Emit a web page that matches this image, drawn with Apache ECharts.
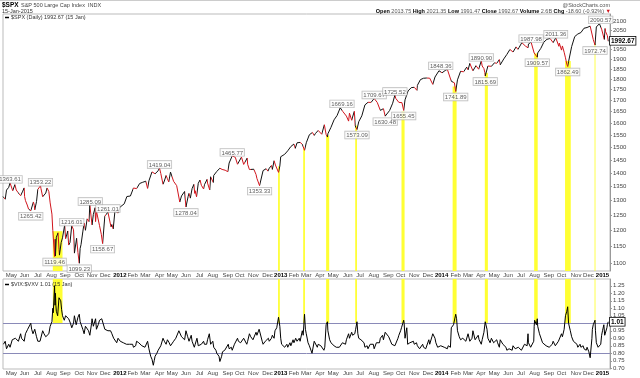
<!DOCTYPE html>
<html><head><meta charset="utf-8">
<script src="https://cdn.jsdelivr.net/npm/echarts@6/dist/echarts.min.js"></script>
<style>html,body{margin:0;padding:0;background:#fff}#c{width:640px;height:378px}</style>
</head><body><div id="c"></div>
<script>
// ---------- DATA ----------
const priceDates = [
'2011-04-13','2011-04-15','2011-04-18','2011-04-21','2011-04-26','2011-04-29','2011-05-03','2011-05-05','2011-05-10','2011-05-13','2011-05-17','2011-05-20','2011-05-23','2011-05-27','2011-05-31','2011-06-01','2011-06-03','2011-06-07','2011-06-10','2011-06-13','2011-06-15','2011-06-17','2011-06-21','2011-06-23','2011-06-24','2011-06-28','2011-07-01','2011-07-05','2011-07-07','2011-07-08','2011-07-12','2011-07-15','2011-07-19','2011-07-22','2011-07-26','2011-07-29','2011-08-01','2011-08-02','2011-08-04','2011-08-05','2011-08-08','2011-08-09','2011-08-10','2011-08-12','2011-08-16','2011-08-18','2011-08-19','2011-08-23','2011-08-26','2011-08-31','2011-09-02','2011-09-07','2011-09-09','2011-09-12','2011-09-16','2011-09-20','2011-09-22','2011-09-27','2011-09-30','2011-10-03','2011-10-05','2011-10-07','2011-10-11','2011-10-14','2011-10-17','2011-10-21','2011-10-25','2011-10-27','2011-10-28','2011-11-01','2011-11-04','2011-11-08','2011-11-09','2011-11-11','2011-11-15','2011-11-18','2011-11-22','2011-11-25','2011-11-30','2011-12-02','2011-12-07','2011-12-09','2011-12-14','2011-12-16','2011-12-19','2011-12-23','2011-12-27','2011-12-30',
'2012-01-03','2012-01-06','2012-01-13','2012-01-19','2012-01-20','2012-01-27','2012-02-03','2012-02-10','2012-02-17','2012-02-24','2012-03-02','2012-03-06','2012-03-09','2012-03-16','2012-03-23','2012-03-30','2012-04-02','2012-04-05','2012-04-10','2012-04-13','2012-04-17','2012-04-20','2012-04-23','2012-04-27','2012-05-01','2012-05-04','2012-05-08','2012-05-11','2012-05-18','2012-05-22','2012-05-25','2012-05-29','2012-06-01','2012-06-06','2012-06-08','2012-06-11','2012-06-15','2012-06-19','2012-06-21','2012-06-22','2012-06-25','2012-06-29','2012-07-03','2012-07-06','2012-07-11','2012-07-13','2012-07-19','2012-07-20','2012-07-25','2012-07-27','2012-08-02','2012-08-03','2012-08-10','2012-08-17','2012-08-22','2012-08-24','2012-08-29','2012-08-31','2012-09-04','2012-09-07','2012-09-14','2012-09-21','2012-09-26','2012-09-28','2012-10-05','2012-10-10','2012-10-12','2012-10-18','2012-10-19','2012-10-23','2012-10-26','2012-11-02','2012-11-07','2012-11-09','2012-11-15','2012-11-16','2012-11-23','2012-11-30','2012-12-04','2012-12-07','2012-12-12','2012-12-14','2012-12-18','2012-12-21','2012-12-28','2012-12-31',
'2013-01-02','2013-01-04','2013-01-11','2013-01-18','2013-01-25','2013-02-01','2013-02-04','2013-02-08','2013-02-15','2013-02-20','2013-02-22','2013-02-25','2013-03-01','2013-03-08','2013-03-15','2013-03-19','2013-03-22','2013-03-28','2013-04-05','2013-04-11','2013-04-15','2013-04-18','2013-04-19','2013-04-26','2013-05-03','2013-05-10','2013-05-17','2013-05-21','2013-05-23','2013-05-24','2013-05-31','2013-06-05','2013-06-07','2013-06-12','2013-06-14','2013-06-18','2013-06-20','2013-06-21','2013-06-24','2013-06-28','2013-07-05','2013-07-12','2013-07-19','2013-07-26','2013-08-02','2013-08-09','2013-08-16','2013-08-23','2013-08-27','2013-08-30','2013-09-06','2013-09-13','2013-09-18','2013-09-20','2013-09-27','2013-10-04','2013-10-08','2013-10-11','2013-10-18','2013-10-25','2013-11-01','2013-11-07','2013-11-08','2013-11-15','2013-11-22','2013-11-29','2013-12-06','2013-12-13','2013-12-18','2013-12-20','2013-12-27','2013-12-31',
'2014-01-03','2014-01-10','2014-01-15','2014-01-17','2014-01-24','2014-01-28','2014-01-31','2014-02-03','2014-02-07','2014-02-14','2014-02-21','2014-02-28','2014-03-03','2014-03-07','2014-03-14','2014-03-21','2014-03-27','2014-03-28','2014-04-02','2014-04-04','2014-04-08','2014-04-10','2014-04-11','2014-04-17','2014-04-25','2014-05-02','2014-05-07','2014-05-09','2014-05-13','2014-05-15','2014-05-16','2014-05-23','2014-05-30','2014-06-06','2014-06-13','2014-06-20','2014-06-24','2014-06-27','2014-07-03','2014-07-11','2014-07-17','2014-07-18','2014-07-24','2014-07-25','2014-07-31','2014-08-01','2014-08-07','2014-08-08','2014-08-15','2014-08-22','2014-08-29','2014-09-05','2014-09-12','2014-09-18','2014-09-19','2014-09-25','2014-09-26','2014-10-01','2014-10-03','2014-10-07','2014-10-10','2014-10-13','2014-10-15','2014-10-17','2014-10-24','2014-10-31','2014-11-07','2014-11-14','2014-11-21','2014-11-28','2014-12-05','2014-12-12','2014-12-16','2014-12-19','2014-12-26','2014-12-29','2014-12-31',
'2015-01-02','2015-01-06','2015-01-08','2015-01-09','2015-01-13','2015-01-15'];
const priceValues = [
1314.41,1319.68,1305.14,1337.38,1347.24,1363.61,1356.62,1335.10,1357.16,1337.77,1328.98,1333.27,1317.37,1331.10,1345.20,1314.55,1300.16,1284.94,1270.98,1271.83,1265.42,1271.50,1295.52,1283.50,1268.45,1296.67,1339.67,1337.88,1353.22,1343.80,1313.64,1316.14,1326.73,1345.02,1331.94,1292.28,1286.94,1254.05,1200.07,1199.38,1119.46,1172.53,1120.76,1178.81,1192.76,1140.65,1123.53,1162.35,1176.80,1218.89,1173.97,1198.62,1154.23,1162.27,1216.01,1202.09,1129.56,1175.38,1131.42,1099.23,1144.03,1155.46,1195.54,1224.58,1200.86,1238.25,1229.05,1284.59,1285.09,1218.28,1253.23,1275.92,1229.10,1263.85,1257.81,1215.65,1188.04,1158.67,1246.96,1244.28,1261.01,1255.19,1211.82,1219.66,1205.35,1265.33,1265.43,1257.60,
1277.06,1277.81,1289.09,1314.50,1315.38,1316.33,1344.90,1342.64,1361.23,1365.74,1369.63,1343.36,1370.87,1404.17,1397.11,1408.47,1419.04,1398.08,1358.59,1370.26,1390.78,1378.53,1366.94,1403.36,1405.82,1369.10,1363.72,1353.39,1295.22,1316.63,1317.82,1332.42,1278.04,1315.13,1325.66,1308.93,1342.84,1357.98,1325.51,1335.02,1313.72,1362.16,1374.02,1354.68,1341.45,1356.78,1376.51,1362.66,1337.89,1385.97,1365.00,1390.99,1405.87,1418.16,1413.49,1411.13,1410.49,1406.58,1404.94,1437.92,1465.77,1460.15,1433.32,1440.67,1460.93,1432.56,1428.59,1457.34,1433.19,1413.11,1411.94,1414.20,1394.53,1379.85,1353.33,1359.88,1409.15,1416.18,1407.05,1418.07,1428.48,1413.58,1446.79,1430.15,1402.43,1426.19,
1462.42,1466.47,1472.05,1485.98,1502.96,1513.17,1495.71,1517.93,1519.79,1511.95,1515.60,1487.85,1518.20,1551.18,1560.70,1548.34,1556.89,1569.19,1553.28,1593.37,1552.36,1541.61,1555.25,1582.24,1614.42,1633.70,1667.47,1669.16,1650.51,1649.60,1630.74,1608.90,1643.38,1612.52,1626.73,1651.81,1588.19,1592.43,1573.09,1606.28,1631.89,1680.19,1692.09,1691.65,1709.67,1691.42,1655.83,1663.50,1630.48,1632.97,1655.17,1687.99,1725.52,1709.91,1691.75,1690.50,1655.45,1703.20,1744.50,1759.77,1761.64,1747.15,1770.61,1798.18,1804.76,1805.81,1805.09,1775.32,1810.65,1818.32,1841.40,1848.36,
1831.37,1842.37,1848.38,1838.70,1790.29,1792.50,1782.59,1741.89,1797.02,1838.63,1836.25,1859.45,1845.73,1878.04,1841.13,1866.52,1849.04,1857.62,1890.90,1865.09,1851.96,1833.08,1815.69,1864.85,1863.40,1881.14,1878.21,1878.48,1897.45,1870.85,1877.86,1900.53,1923.57,1949.44,1936.16,1962.87,1949.98,1960.96,1985.44,1967.57,1958.12,1978.22,1987.98,1978.34,1930.67,1925.15,1909.57,1931.59,1955.06,1988.40,2003.37,2007.71,1985.54,2011.36,2010.40,1965.99,1982.85,1946.16,1967.90,1935.10,1906.13,1874.74,1862.49,1886.76,1964.58,2018.05,2031.92,2039.82,2063.50,2067.56,2075.37,2002.33,1972.74,2070.65,2088.77,2090.57,2058.90,
2058.20,2002.61,2062.14,2044.81,2023.03,1992.67];

const peakDates  = ['2011-04-29','2011-07-07','2011-09-16','2011-10-28','2011-12-07','2012-04-02','2012-09-14','2013-05-21','2013-08-02','2013-09-18','2013-12-31','2014-04-02','2014-07-24','2014-09-18','2014-12-29'];
const peakValues = [1363.61,1353.22,1216.01,1285.09,1261.01,1419.04,1465.77,1669.16,1709.67,1725.52,1848.36,1890.90,1987.98,2011.36,2090.57];
const troughDates  = ['2011-06-15','2011-08-08','2011-10-03','2011-11-25','2012-06-01','2012-11-15','2013-06-24','2013-08-27','2013-10-08','2014-02-03','2014-04-11','2014-08-07','2014-10-15','2014-12-16'];
const troughValues = [1265.42,1119.46,1099.23,1158.67,1278.04,1353.33,1573.09,1630.48,1655.45,1741.89,1815.69,1909.57,1862.49,1972.74];

const ratioDates = [
'2011-04-14','2011-04-18','2011-04-21','2011-04-26','2011-04-29','2011-05-04','2011-05-06','2011-05-11','2011-05-13','2011-05-18','2011-05-23','2011-05-25','2011-05-31','2011-06-03','2011-06-08','2011-06-10','2011-06-15','2011-06-17','2011-06-20','2011-06-24','2011-06-28','2011-07-01','2011-07-06','2011-07-08','2011-07-12','2011-07-15','2011-07-19','2011-07-22','2011-07-26','2011-07-29','2011-08-02','2011-08-04','2011-08-05','2011-08-08','2011-08-09','2011-08-10','2011-08-11','2011-08-12','2011-08-15','2011-08-18','2011-08-19','2011-08-22','2011-08-24','2011-08-26','2011-08-30','2011-09-02','2011-09-06','2011-09-09','2011-09-13','2011-09-16','2011-09-20','2011-09-22','2011-09-26','2011-09-30','2011-10-03','2011-10-05','2011-10-07','2011-10-11','2011-10-14','2011-10-17','2011-10-20','2011-10-24','2011-10-27','2011-10-31','2011-11-01','2011-11-04','2011-11-09','2011-11-11','2011-11-15','2011-11-18','2011-11-23','2011-11-25','2011-11-30','2011-12-02','2011-12-07','2011-12-09','2011-12-13','2011-12-16','2011-12-20','2011-12-23','2011-12-27','2011-12-30',
'2012-01-04','2012-01-06','2012-01-11','2012-01-13','2012-01-18','2012-01-20','2012-01-25','2012-01-27','2012-02-01','2012-02-03','2012-02-08','2012-02-10','2012-02-15','2012-02-17','2012-02-22','2012-02-24','2012-02-29','2012-03-02','2012-03-06','2012-03-09','2012-03-13','2012-03-16','2012-03-19','2012-03-21','2012-03-23','2012-03-27','2012-03-30','2012-04-03','2012-04-05','2012-04-10','2012-04-13','2012-04-17','2012-04-20','2012-04-24','2012-04-27','2012-05-01','2012-05-04','2012-05-09','2012-05-11','2012-05-16','2012-05-18','2012-05-22','2012-05-25','2012-05-29','2012-06-01','2012-06-05','2012-06-08','2012-06-13','2012-06-15','2012-06-20','2012-06-22','2012-06-26','2012-06-29','2012-07-03','2012-07-06','2012-07-11','2012-07-13','2012-07-18','2012-07-20','2012-07-24','2012-07-27','2012-08-01','2012-08-03','2012-08-08','2012-08-10','2012-08-15','2012-08-17','2012-08-21','2012-08-23','2012-08-28','2012-08-31','2012-09-05','2012-09-07','2012-09-12','2012-09-14','2012-09-19','2012-09-21','2012-09-26','2012-09-28','2012-10-03','2012-10-05','2012-10-10','2012-10-12','2012-10-17','2012-10-19','2012-10-23','2012-10-26','2012-10-31','2012-11-02','2012-11-07','2012-11-09','2012-11-14','2012-11-16','2012-11-21','2012-11-23','2012-11-28','2012-11-30','2012-12-05','2012-12-07','2012-12-12','2012-12-14','2012-12-18','2012-12-20','2012-12-24','2012-12-28','2012-12-31',
'2013-01-02','2013-01-04','2013-01-08','2013-01-11','2013-01-16','2013-01-18','2013-01-23','2013-01-25','2013-01-30','2013-02-01','2013-02-05','2013-02-08','2013-02-13','2013-02-15','2013-02-20','2013-02-22','2013-02-25','2013-02-27','2013-03-01','2013-03-05','2013-03-08','2013-03-12','2013-03-14','2013-03-19','2013-03-22','2013-03-26','2013-03-28','2013-04-03','2013-04-05','2013-04-10','2013-04-12','2013-04-15','2013-04-18','2013-04-19','2013-04-23','2013-04-26','2013-04-30','2013-05-03','2013-05-08','2013-05-10','2013-05-15','2013-05-17','2013-05-22','2013-05-24','2013-05-29','2013-05-31','2013-06-05','2013-06-07','2013-06-12','2013-06-14','2013-06-19','2013-06-21','2013-06-24','2013-06-26','2013-06-28','2013-07-03','2013-07-05','2013-07-10','2013-07-12','2013-07-17','2013-07-19','2013-07-24','2013-07-26','2013-07-31','2013-08-02','2013-08-07','2013-08-09','2013-08-14','2013-08-16','2013-08-21','2013-08-23','2013-08-27','2013-08-30','2013-09-04','2013-09-06','2013-09-11','2013-09-13','2013-09-18','2013-09-20','2013-09-25','2013-09-27','2013-10-01','2013-10-03','2013-10-08','2013-10-09','2013-10-11','2013-10-15','2013-10-17','2013-10-22','2013-10-25','2013-10-30','2013-11-01','2013-11-06','2013-11-08','2013-11-13','2013-11-15','2013-11-20','2013-11-22','2013-11-27','2013-11-29','2013-12-04','2013-12-06','2013-12-11','2013-12-13','2013-12-18','2013-12-20','2013-12-24','2013-12-27','2013-12-31',
'2014-01-03','2014-01-08','2014-01-10','2014-01-15','2014-01-17','2014-01-22','2014-01-24','2014-01-27','2014-01-29','2014-02-03','2014-02-05','2014-02-07','2014-02-11','2014-02-14','2014-02-19','2014-02-21','2014-02-26','2014-02-28','2014-03-03','2014-03-07','2014-03-12','2014-03-14','2014-03-19','2014-03-21','2014-03-26','2014-03-28','2014-04-02','2014-04-04','2014-04-08','2014-04-11','2014-04-15','2014-04-17','2014-04-22','2014-04-25','2014-04-30','2014-05-02','2014-05-07','2014-05-09','2014-05-13','2014-05-15','2014-05-21','2014-05-23','2014-05-28','2014-05-30','2014-06-04','2014-06-06','2014-06-11','2014-06-13','2014-06-18','2014-06-20','2014-06-25','2014-06-27','2014-07-02','2014-07-03','2014-07-09','2014-07-11','2014-07-15','2014-07-17','2014-07-18','2014-07-23','2014-07-25','2014-07-30','2014-07-31','2014-08-01','2014-08-05','2014-08-07','2014-08-08','2014-08-12','2014-08-15','2014-08-19','2014-08-22','2014-08-27','2014-08-29','2014-09-03','2014-09-05','2014-09-10','2014-09-12','2014-09-17','2014-09-19','2014-09-24','2014-09-26','2014-10-01','2014-10-03','2014-10-07','2014-10-10','2014-10-13','2014-10-15','2014-10-16','2014-10-17','2014-10-21','2014-10-24','2014-10-28','2014-10-31','2014-11-05','2014-11-07','2014-11-12','2014-11-14','2014-11-19','2014-11-21','2014-11-26','2014-11-28','2014-12-02','2014-12-05','2014-12-09','2014-12-10','2014-12-12','2014-12-15','2014-12-16','2014-12-17','2014-12-19','2014-12-23','2014-12-26','2014-12-29','2014-12-31',
'2015-01-02','2015-01-05','2015-01-06','2015-01-07','2015-01-09','2015-01-12','2015-01-13','2015-01-14','2015-01-15'];
const ratioValues = [
0.86,0.88,0.83,0.86,0.84,0.89,0.90,0.90,0.89,0.88,0.93,0.90,0.88,0.93,0.96,0.95,1.00,0.96,0.93,0.96,0.91,0.88,0.88,0.89,0.95,0.93,0.91,0.90,0.93,0.98,1.01,1.10,1.07,1.25,1.12,1.20,1.12,1.08,1.05,1.17,1.18,1.15,1.09,1.05,1.02,1.05,1.06,1.03,1.00,0.97,1.00,1.05,0.99,1.04,1.06,1.01,1.00,0.96,0.93,0.98,0.97,0.95,0.92,1.00,1.03,0.98,1.03,0.96,0.99,1.02,1.03,1.02,0.96,0.95,0.95,0.94,0.95,0.93,0.90,0.89,0.87,0.90,
0.88,0.87,0.87,0.88,0.86,0.85,0.86,0.87,0.86,0.84,0.85,0.88,0.87,0.86,0.85,0.86,0.84,0.85,0.88,0.83,0.78,0.76,0.72,0.75,0.78,0.80,0.82,0.83,0.85,0.90,0.88,0.86,0.89,0.87,0.85,0.84,0.88,0.90,0.89,0.95,0.94,0.91,0.92,0.89,0.95,0.91,0.88,0.92,0.88,0.84,0.86,0.90,0.85,0.84,0.86,0.88,0.86,0.86,0.89,0.93,0.86,0.88,0.84,0.82,0.80,0.78,0.745,0.78,0.81,0.82,0.83,0.86,0.83,0.84,0.82,0.86,0.87,0.90,0.88,0.87,0.86,0.90,0.91,0.86,0.88,0.93,0.91,0.89,0.90,0.94,0.92,0.96,0.97,0.88,0.86,0.88,0.87,0.90,0.88,0.90,0.92,0.90,0.95,0.97,1.04,0.98,
0.90,0.86,0.85,0.84,0.86,0.84,0.87,0.85,0.89,0.87,0.90,0.88,0.90,0.88,0.95,0.92,1.06,0.96,0.93,0.87,0.85,0.84,0.80,0.88,0.87,0.84,0.86,0.85,0.86,0.82,0.84,0.99,1.01,0.95,0.89,0.87,0.86,0.85,0.84,0.83,0.84,0.83,0.87,0.88,0.86,0.89,0.93,0.90,0.94,0.92,0.93,0.96,1.01,0.93,0.90,0.89,0.88,0.87,0.84,0.85,0.83,0.86,0.85,0.86,0.83,0.87,0.86,0.87,0.90,0.92,0.89,0.94,0.93,0.91,0.90,0.86,0.87,0.85,0.86,0.90,0.92,0.95,0.97,1.02,1.00,0.90,0.97,0.86,0.87,0.86,0.88,0.86,0.87,0.85,0.83,0.82,0.86,0.84,0.83,0.84,0.89,0.86,0.91,0.93,0.90,0.87,0.84,0.85,0.85,
0.86,0.84,0.84,0.83,0.85,0.84,0.97,0.98,0.99,1.06,1.03,0.95,0.91,0.89,0.90,0.89,0.88,0.87,0.93,0.88,0.90,0.95,0.89,0.90,0.92,0.89,0.86,0.89,0.94,1.01,0.96,0.90,0.87,0.90,0.87,0.86,0.89,0.87,0.84,0.89,0.86,0.85,0.84,0.82,0.83,0.82,0.82,0.85,0.83,0.82,0.84,0.83,0.82,0.81,0.86,0.87,0.85,0.93,0.87,0.84,0.85,0.88,0.98,1.02,0.99,1.03,0.98,0.93,0.92,0.87,0.86,0.85,0.84,0.84,0.83,0.86,0.88,0.85,0.86,0.88,0.89,0.93,0.91,0.96,1.05,1.08,1.11,1.10,1.00,0.95,0.91,0.88,0.89,0.86,0.84,0.86,0.84,0.85,0.83,0.82,0.84,0.81,0.77,0.90,0.96,0.99,1.00,1.02,0.95,0.87,0.84,0.83,0.86,0.92,
0.95,0.99,0.98,0.92,0.93,0.97,0.99,1.00,1.01];

// yellow highlight bands (VIX:VXV >= 1)
const bandStart    = ['2011-08-04','2012-12-27','2013-02-22','2013-04-15','2013-06-20','2013-10-03','2014-01-27','2014-04-10','2014-07-31','2014-10-09','2014-12-15'];
const bandEnd      = ['2011-08-26','2012-12-31','2013-02-26','2013-04-22','2013-06-24','2013-10-10','2014-02-05','2014-04-17','2014-08-08','2014-10-22','2014-12-17'];
const bandPriceTop = [1198,1426,1495,1548,1590,1650,1765,1831,1929,1890,1983];

const xTickDates  = ['2011-05-02','2011-06-01','2011-07-01','2011-08-01','2011-09-01','2011-10-03','2011-11-01','2011-12-01','2012-01-03','2012-02-01','2012-03-01','2012-04-02','2012-05-01','2012-06-01','2012-07-02','2012-08-01','2012-09-04','2012-10-01','2012-11-01','2012-12-03','2013-01-02','2013-02-01','2013-03-01','2013-04-01','2013-05-01','2013-06-03','2013-07-01','2013-08-01','2013-09-03','2013-10-01','2013-11-01','2013-12-02','2014-01-02','2014-02-03','2014-03-03','2014-04-01','2014-05-01','2014-06-02','2014-07-01','2014-08-01','2014-09-02','2014-10-01','2014-11-03','2014-12-01','2015-01-02'];
const xTickLabels = ['May','Jun','Jul','Aug','Sep','Oct','Nov','Dec','2012','Feb','Mar','Apr','May','Jun','Jul','Aug','Sep','Oct','Nov','Dec','2013','Feb','Mar','Apr','May','Jun','Jul','Aug','Sep','Oct','Nov','Dec','2014','Feb','Mar','Apr','May','Jun','Jul','Aug','Sep','Oct','Nov','Dec','2015'];
const priceTicks = [1100,1150,1200,1250,1300,1350,1400,1450,1500,1550,1600,1650,1700,1750,1800,1850,1900,1950,2050,2100];
const ratioTicks = [0.70,0.75,0.80,0.85,0.90,0.95,1.05,1.10,1.15,1.20,1.25];
const ratioLines = [1.0, 0.8];

// ---------- BUILD ----------
const T = s => Date.parse(s);
const L = v => Math.log10(v);
const FONT = 'Liberation Sans, Arial, sans-serif';
const xMin = T('2011-04-13'), xMax = T('2015-01-19');
const pMin = L(1076.7), pMax = L(2143.8);
const rMin = 0.695, rMax = 1.295;
const YEL = '#ffff33';
const CLEAR = 'rgba(0,0,0,0)';

const labelMap = {};
xTickDates.forEach((d, i) => { labelMap[T(d)] = xTickLabels[i]; });
const xFmt = v => { const s = labelMap[v] || ''; return /^\d{4}$/.test(s) ? '{b|' + s + '}' : s; };

const priceData = priceDates.map((d, i) => [T(d), L(priceValues[i])]);
const ratioData = ratioDates.map((d, i) => [T(d), ratioValues[i]]);

const downPieces = [];
for (let i = 1; i < priceValues.length; i++) {
  if (priceValues[i] < priceValues[i - 1]) downPieces.push({gte: T(priceDates[i - 1]), lte: T(priceDates[i]), color: '#d0141c'});
}

function xAxisFor(gi) {
  return {
    gridIndex: gi, type: 'value', min: xMin, max: xMax, scale: true,
    axisLine: {show: false}, axisTick: {show: false}, splitLine: {show: false},
    axisLabel: {customValues: xTickDates.map(T), formatter: xFmt, fontSize: 6, margin: 1.5,
      color: '#444', fontFamily: FONT, rich: {b: {fontSize: 6, fontWeight: 'bold', color: '#000', fontFamily: FONT}}}
  };
}
const lastPrice = priceValues[priceValues.length - 1];
const lastRatio = ratioValues[ratioValues.length - 1];
const lastBox = {
  show: true, position: 'end', distance: 0, fontSize: 6.5, fontWeight: 'bold', color: '#000', fontFamily: FONT,
  backgroundColor: '#fff', borderColor: '#000', borderWidth: 0.8, padding: [1, 1, 0, 1], opacity: 1
};
const annLabel = {
  show: true, fontSize: 6, color: '#333', fontFamily: FONT, backgroundColor: '#fff',
  borderColor: '#aaa', borderWidth: 0.7, padding: [1, 1, 0, 1],
  formatter: p => p.value[2].toFixed(2)
};

const option = {
  animation: false,
  backgroundColor: '#fff',
  grid: [
    {left: 3, right: 30, top: 14, height: 257, show: true, borderColor: '#bbb', borderWidth: 1},
    {left: 3, right: 30, top: 279, height: 90, show: true, borderColor: '#bbb', borderWidth: 1}
  ],
  xAxis: [xAxisFor(0), xAxisFor(1)],
  yAxis: [
    {gridIndex: 0, type: 'value', position: 'right', min: pMin, max: pMax, scale: true,
      splitLine: {show: false}, axisLine: {show: true, lineStyle: {color: '#999'}},
      axisTick: {show: true, length: 2, customValues: priceTicks.map(L), lineStyle: {color: '#999'}},
      axisLabel: {customValues: priceTicks.map(L), formatter: v => String(Math.round(Math.pow(10, v))),
        fontSize: 6, margin: 3, color: '#444', fontFamily: FONT}},
    {gridIndex: 1, type: 'value', position: 'right', min: rMin, max: rMax, scale: true,
      splitLine: {show: false}, axisLine: {show: true, lineStyle: {color: '#999'}},
      axisTick: {show: true, length: 2, customValues: ratioTicks, lineStyle: {color: '#999'}},
      axisLabel: {customValues: ratioTicks, formatter: v => v.toFixed(2),
        fontSize: 6, margin: 3, color: '#444', fontFamily: FONT}}
  ],
  visualMap: [{type: 'piecewise', show: false, seriesIndex: 0, dimension: 0, pieces: downPieces, outOfRange: {color: '#111'}}],
  series: [
    {type: 'line', xAxisIndex: 0, yAxisIndex: 0, data: priceData, showSymbol: false, symbol: 'none',
      lineStyle: {width: 1}, z: 3,
      markArea: {silent: true, itemStyle: {color: YEL}, z: 1,
        data: bandStart.map((s, i) => [{xAxis: T(s), yAxis: pMin}, {xAxis: T(bandEnd[i]), yAxis: L(bandPriceTop[i])}])},
      markLine: {silent: true, symbol: 'none', z: 6,
        data: [{yAxis: L(lastPrice), lineStyle: {color: CLEAR, width: 1}, label: Object.assign({}, lastBox, {formatter: lastPrice.toFixed(2)})}]}
    },
    {type: 'scatter', xAxisIndex: 0, yAxisIndex: 0, symbolSize: 0, z: 5,
      data: peakDates.map((d, i) => [T(d), L(peakValues[i]), peakValues[i]]),
      label: Object.assign({}, annLabel, {position: 'top', distance: 0})},
    {type: 'scatter', xAxisIndex: 0, yAxisIndex: 0, symbolSize: 0, z: 5,
      data: troughDates.map((d, i) => [T(d), L(troughValues[i]), troughValues[i]]),
      label: Object.assign({}, annLabel, {position: 'bottom', distance: 2})},
    {type: 'line', xAxisIndex: 1, yAxisIndex: 1, data: ratioData, showSymbol: false, symbol: 'none',
      lineStyle: {width: 1, color: '#000'}, itemStyle: {color: '#000'}, z: 3,
      markArea: {silent: true, itemStyle: {color: YEL}, z: 1,
        data: bandStart.map((s, i) => [{xAxis: T(s), yAxis: 1.0}, {xAxis: T(bandEnd[i]), yAxis: rMax}])},
      markLine: {silent: true, symbol: 'none', z: 2,
        data: ratioLines.map(v => ({yAxis: v, lineStyle: {color: '#8a8ab8', width: 1, type: 'solid'}, label: {show: false}}))
          .concat([{yAxis: lastRatio, lineStyle: {color: CLEAR, width: 1}, label: Object.assign({}, lastBox, {formatter: lastRatio.toFixed(2)})}])}
    }
  ],
  graphic: [
    {type: 'line', z: 100, shape: {x1: 0, y1: 0.5, x2: 640, y2: 0.5}, style: {stroke: '#ccc', lineWidth: 1}},
    {type: 'text', z: 100, left: 2, top: 1.5, style: {text: '$SPX', font: 'bold 6.5px ' + FONT, fill: '#000'}},
    {type: 'text', z: 100, left: 21, top: 2.5, style: {text: 'S&P 500 Large Cap Index  INDX', font: '5.5px ' + FONT, fill: '#444'}},
    {type: 'text', z: 100, left: 2, top: 8, style: {text: '15-Jan-2015', font: '5.5px ' + FONT, fill: '#333'}},
    {type: 'text', z: 100, right: 30, top: 2, style: {text: '@StockCharts.com', font: '5.5px ' + FONT, fill: '#555'}},
    {type: 'text', z: 100, right: 29, top: 8, style: {
      text: '{b|Open} 2013.75 {b|High} 2021.35 {b|Low} 1991.47 {b|Close} 1992.67 {b|Volume} 2.6B {b|Chg} -18.60 (-0.92%) {r|▼}',
      font: '5.5px ' + FONT, fill: '#555',
      rich: {b: {font: 'bold 5.5px ' + FONT, fill: '#000'}, r: {font: '5.5px ' + FONT, fill: '#d0141c'}}}},
    {type: 'line', z: 100, shape: {x1: 5, y1: 17.5, x2: 9, y2: 17.5}, style: {stroke: '#000', lineWidth: 1.5}},
    {type: 'text', z: 100, left: 11, top: 14.5, style: {text: '$SPX (Daily) 1992.67 (15 Jan)', font: '5.5px ' + FONT, fill: '#333'}},
    {type: 'line', z: 100, shape: {x1: 5, y1: 284.5, x2: 9, y2: 284.5}, style: {stroke: '#000', lineWidth: 1.5}},
    {type: 'text', z: 100, left: 11, top: 281.5, style: {text: '$VIX:$VXV 1.01 (15 Jan)', font: '5.5px ' + FONT, fill: '#333'}}
  ]
};
const chart = echarts.init(document.getElementById('c'), null, {renderer: 'canvas'});
chart.setOption(option);
</script></body></html>
